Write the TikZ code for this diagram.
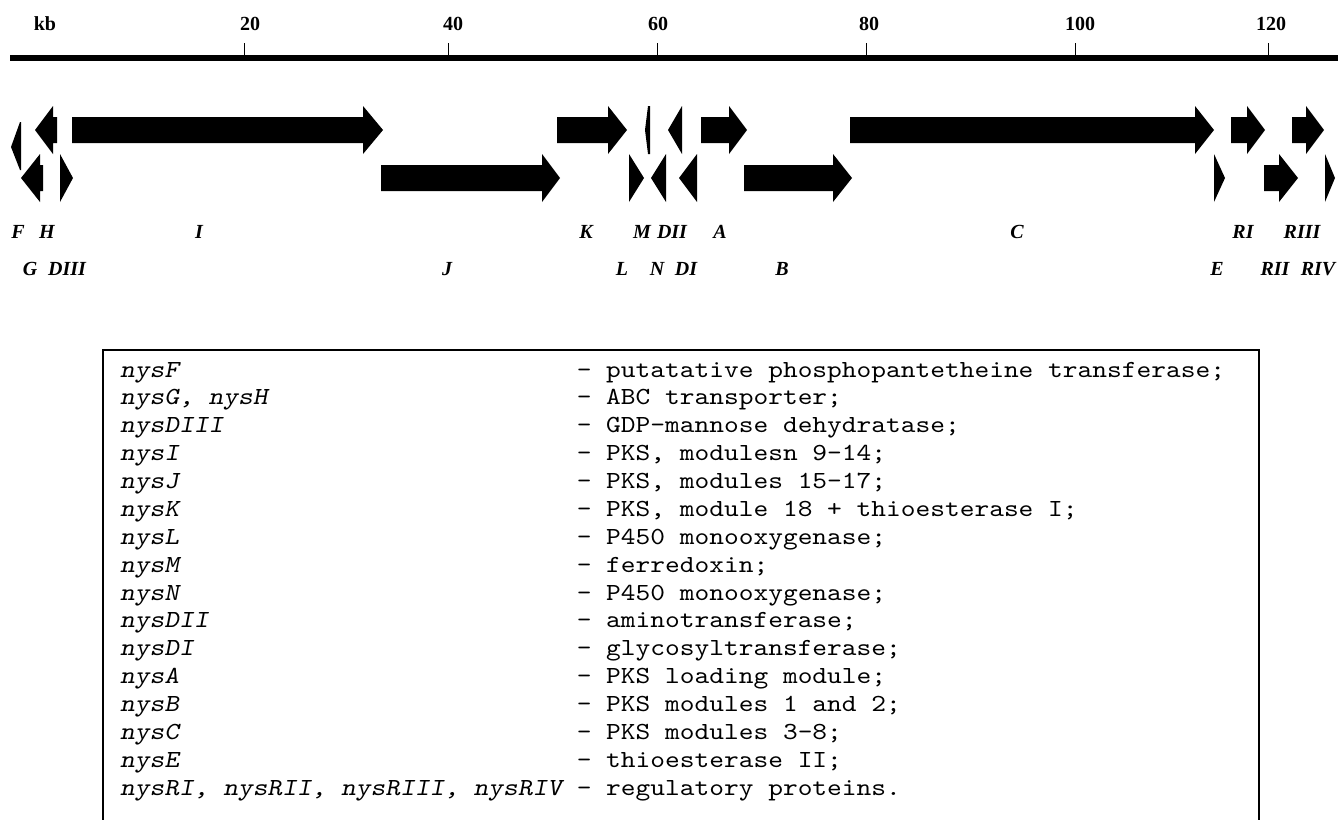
\documentclass[tikz,border=0pt]{standalone}
\usepackage{fontspec}
\setmainfont{Liberation Serif}
\setmonofont{lmmono10-regular.otf}[ItalicFont=lmmonoslant10-regular.otf, FakeStretch=1.143]
\newcommand\geneR[4]{\fill (#1,#4-13) -- (#2,#4-13) -- (#2,#4-24) -- (#3,#4) -- (#2,#4+24) -- (#2,#4+13) -- (#1,#4+13) -- cycle;}
\newcommand\geneL[4]{\fill (#1,#4) -- (#2,#4-24) -- (#2,#4-13) -- (#3,#4-13) -- (#3,#4+13) -- (#2,#4+13) -- (#2,#4+24) -- cycle;}
\begin{document}
\begin{tikzpicture}[x=1pt,y=-1pt,
  glabel/.style={font=\fontsize{20}{20}\selectfont\bfseries\itshape, anchor=base, inner sep=0pt},
  ticklabel/.style={font=\fontsize{20}{20}\selectfont\bfseries, anchor=base, inner sep=0pt},
  ltext/.style={font=\fontsize{24.55}{28}\selectfont\ttfamily\itshape, anchor=base west, inner sep=0pt},
  rtext/.style={font=\fontsize{24.55}{28}\selectfont\ttfamily, anchor=base west, inner sep=0pt},
  tickmark/.style={line width=1pt},
  axis/.style={line width=6pt},
  legendbox/.style={line width=1.3pt}]
\useasboundingbox (0,0) rectangle (1338,819);
\clip (0,0) rectangle (1338,819);
% scale axis
\draw[axis] (10,58) -- (1345,58);
\foreach \x in {244,448,657,866,1075,1268} \draw[tickmark] (\x,43) -- (\x,55);
\node[ticklabel] (kb) at (45,30) {kb};
\node[ticklabel] (t20) at (250,30) {20};
\node[ticklabel] (t40) at (453,30) {40};
\node[ticklabel] (t60) at (658,30) {60};
\node[ticklabel] (t80) at (869,30) {80};
\node[ticklabel] (t100) at (1080,30) {100};
\node[ticklabel] (t120) at (1271,30) {120};
% genes row 1
\fill (11,147) -- (20,122) -- (21,122) -- (21,170) -- (20,170) -- cycle; % F
\geneL{35}{53}{57}{130}   % H
\geneR{72}{363}{383}{130} % I
\geneR{557}{608}{627}{130} % K
\fill (645,130) -- (648,106) -- (650,106) -- (650,154) -- (648,154) -- cycle; % M
\geneL{668}{682}{682}{130} % DII
\geneR{701}{729}{747}{130} % A
\geneR{850}{1195}{1214}{130} % C
\geneR{1231}{1247}{1265}{130} % RI
\geneR{1292}{1306}{1324}{130} % RIII
% genes row 2
\geneL{21}{40}{43}{178} % G
\geneR{60}{60}{73}{178} % DIII
\geneR{381}{542}{560}{178} % J
\geneR{629}{629}{644}{178} % L
\geneL{651}{666}{666}{178} % N
\geneL{679}{697}{697}{178} % DI
\geneR{744}{833}{852}{178} % B
\geneR{1214}{1214}{1225}{178} % E
\geneR{1264}{1279}{1298}{178} % RII
\geneR{1325}{1325}{1335}{178} % RIV
% gene labels
\node[glabel] (lF) at (18,238) {F};
\node[glabel] (lH) at (47,238) {H};
\node[glabel] (lI) at (199,238) {I};
\node[glabel] (lK) at (586,238) {K};
\node[glabel] (lM) at (642,238) {M};
\node[glabel] (lDII) at (672,238) {DII};
\node[glabel] (lA) at (720,238) {A};
\node[glabel] (lC) at (1017,238) {C};
\node[glabel] (lRI) at (1243,238) {RI};
\node[glabel] (lRIII) at (1302,238) {RIII};
\node[glabel] (lG) at (30,275) {G};
\node[glabel] (lDIII) at (67,275) {DIII};
\node[glabel] (lJ) at (447,275) {J};
\node[glabel] (lL) at (622,275) {L};
\node[glabel] (lN) at (657,275) {N};
\node[glabel] (lDI) at (686,275) {DI};
\node[glabel] (lB) at (782,275) {B};
\node[glabel] (lE) at (1217,275) {E};
\node[glabel] (lRII) at (1275,275) {RII};
\node[glabel] (lRIV) at (1318,275) {RIV};
% legend box
\draw[legendbox] (103,840) -- (103,350) -- (1259,350) -- (1259,840);
\node[ltext] (a1) at (120,377) {nysF};
\node[rtext] (b1) at (576.6,377) {- putatative phosphopantetheine transferase;};
\node[ltext] (a2) at (120,404.9) {nysG, nysH};
\node[rtext] (b2) at (576.6,404.9) {- ABC transporter;};
\node[ltext] (a3) at (120,432.7) {nysDIII};
\node[rtext] (b3) at (576.6,432.7) {- GDP-mannose dehydratase;};
\node[ltext] (a4) at (120,460.6) {nysI};
\node[rtext] (b4) at (576.6,460.6) {- PKS, modulesn 9-14;};
\node[ltext] (a5) at (120,488.5) {nysJ};
\node[rtext] (b5) at (576.6,488.5) {- PKS, modules 15-17;};
\node[ltext] (a6) at (120,516.4) {nysK};
\node[rtext] (b6) at (576.6,516.4) {- PKS, module 18 + thioesterase I;};
\node[ltext] (a7) at (120,544.2) {nysL};
\node[rtext] (b7) at (576.6,544.2) {- P450 monooxygenase;};
\node[ltext] (a8) at (120,572.1) {nysM};
\node[rtext] (b8) at (576.6,572.1) {- ferredoxin;};
\node[ltext] (a9) at (120,600.0) {nysN};
\node[rtext] (b9) at (576.6,600.0) {- P450 monooxygenase;};
\node[ltext] (a10) at (120,627.8) {nysDII};
\node[rtext] (b10) at (576.6,627.8) {- aminotransferase;};
\node[ltext] (a11) at (120,655.7) {nysDI};
\node[rtext] (b11) at (576.6,655.7) {- glycosyltransferase;};
\node[ltext] (a12) at (120,683.6) {nysA};
\node[rtext] (b12) at (576.6,683.6) {- PKS loading module;};
\node[ltext] (a13) at (120,711.4) {nysB};
\node[rtext] (b13) at (576.6,711.4) {- PKS modules 1 and 2;};
\node[ltext] (a14) at (120,739.3) {nysC};
\node[rtext] (b14) at (576.6,739.3) {- PKS modules 3-8;};
\node[ltext] (a15) at (120,767.2) {nysE};
\node[rtext] (b15) at (576.6,767.2) {- thioesterase II;};
\node[ltext] (a16) at (120,795.1) {nysRI, nysRII, nysRIII, nysRIV};
\node[rtext] (b16) at (576.6,795.1) {- regulatory proteins.};
\end{tikzpicture}
\end{document}
